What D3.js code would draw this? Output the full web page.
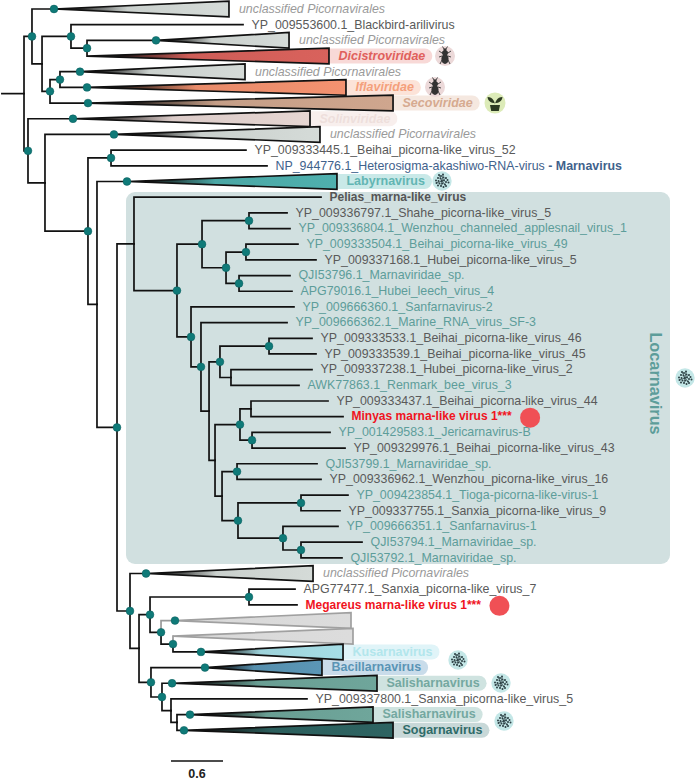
<!DOCTYPE html>
<html><head><meta charset="utf-8">
<script src="https://cdn.jsdelivr.net/npm/d3@7"></script>
<style>
html,body{margin:0;padding:0;background:#fff}
svg{display:block}
text{font-family:"Liberation Sans",Arial,sans-serif}
</style></head><body>
<svg id="chart" width="696" height="780"></svg>
<script>
// Internal nodes: id, parent, depth (substitutions/site from the left edge), has support dot
const rootStemDepth = 0.012;
const internalNodes = [
["n0","",0.277,0],["a","n0",0.369,1],["b","a",0.485,0],["c","b",0.819,1],["d","c",1.004,1],
["e","b",0.577,1],["f","e",0.692,1],["g","n0",0.323,1],["h","g",0.519,0],["i","h",1.015,1],
["j","i",1.281,1],["k","i",1.119,0],["l","k",1.35,1],["m","l",1.546,0],["n","m",2.042,1],
["o","n",2.331,1],["p","o",2.873,1],["q","o",2.608,1],["r","q",2.838,1],["s","q",2.758,1],
["t","n",2.204,1],["u","t",2.319,1],["v","u",2.412,0],["w","v",2.538,1],["x","w",3.104,1],
["y","w",2.665,0],["z","v",2.481,0],["aa","z",2.769,1],["ab","aa",2.896,0],["ac","aa",2.908,1],
["ad","z",2.562,0],["ae","ad",2.735,1],["af","ad",2.746,1],["ag","af",3.473,1],["ah","af",3.265,1],
["ai","ah",3.473,1],["aj","l",1.5,1],["ak","aj",1.604,0],["al","ak",1.731,1],["am","al",2.873,1],
["an","al",1.858,1],["ao","an",1.996,1],["ap","ak",1.742,1],["aq","ap",1.869,1],["ar","aq",1.973,0],
["as","ar",2.042,0]
];
// Sequence tips: row, parent, depth, label, style
const sequenceTips = [
[1,"c",2.804,"YP_009553600.1_Blackbird-arilivirus","gray"],
[9,"j",2.838,"YP_009333445.1_Beihai_picorna-like_virus_52","gray"],
[10,"j",3.081,"NP_944776.1_Heterosigma-akashiwo-RNA-virus","navy"],
[12,"m",3.704,"Pelias_marna-like_virus","boldgray"],
[13,"p",3.312,"YP_009336797.1_Shahe_picorna-like_virus_5","gray"],
[14,"p",3.346,"YP_009336804.1_Wenzhou_channeled_applesnail_virus_1","teal"],
[15,"r",3.438,"YP_009333504.1_Beihai_picorna-like_virus_49","teal"],
[16,"r",3.646,"YP_009337168.1_Hubei_picorna-like_virus_5","gray"],
[17,"s",3.346,"QJI53796.1_Marnaviridae_sp.","teal"],
[18,"s",3.369,"APG79016.1_Hubei_leech_virus_4","teal"],
[19,"t",3.392,"YP_009666360.1_Sanfarnavirus-2","teal"],
[20,"u",3.312,"YP_009666362.1_Marine_RNA_virus_SF-3","teal"],
[21,"x",3.6,"YP_009333533.1_Beihai_picorna-like_virus_46","gray"],
[22,"x",3.646,"YP_009333539.1_Beihai_picorna-like_virus_45","gray"],
[23,"y",3.6,"YP_009337238.1_Hubei_picorna-like_virus_2","gray"],
[24,"y",3.45,"AWK77863.1_Renmark_bee_virus_3","teal"],
[25,"ab",3.785,"YP_009333437.1_Beihai_picorna-like_virus_44","gray"],
[26,"ab",3.958,"Minyas marna-like virus 1***","red"],
[27,"ac",3.808,"YP_001429583.1_Jericarnavirus-B","teal"],
[28,"ac",3.981,"YP_009329976.1_Beihai_picorna-like_virus_43","gray"],
[29,"ae",3.658,"QJI53799.1_Marnaviridae_sp.","teal"],
[30,"ae",3.704,"YP_009336962.1_Wenzhou_picorna-like_virus_16","gray"],
[31,"ag",4.015,"YP_009423854.1_Tioga-picorna-like-virus-1","teal"],
[32,"ag",3.923,"YP_009337755.1_Sanxia_picorna-like_virus_9","gray"],
[33,"ah",3.9,"YP_009666351.1_Sanfarnavirus-1","teal"],
[34,"ai",4.177,"QJI53794.1_Marnaviridae_sp.","teal"],
[35,"ai",3.946,"QJI53792.1_Marnaviridae_sp.","teal"],
[37,"am",3.404,"APG77477.1_Sanxia_picorna-like_virus_7","gray"],
[38,"am",3.427,"Megareus marna-like virus 1***","red"],
[44,"ar",3.542,"YP_009337800.1_Sanxia_picorna-like_virus_5","gray"]
];
// Collapsed clades: row, parent, apex depth, far-edge depth, clade key, dot at apex
const collapsedClades = [
[0,"a",0.623,2.642,"unc",1],[2,"d",1.8,3.335,"unc",1],[3,"d",1.004,3.796,"Dicistroviridae",0],
[4,"f",0.923,2.827,"unc",1],[5,"f",1.004,3.992,"Iflaviridae",1],[6,"e",1.015,4.535,"Secoviridae",1],
[7,"g",0.842,3.577,"Solinviridae",1],[8,"h",1.315,3.692,"unc",1],[11,"k",1.465,3.888,"Labyrnavirus",1],
[36,"aj",1.685,3.612,"unc",1],[39,"an",2.019,4.05,"blank",1],[40,"ao",1.996,4.073,"blank",0],
[41,"ao",2.319,3.958,"Kusarnavirus",1],[42,"ap",2.365,3.715,"Bacillarnavirus",1],
[43,"aq",1.985,4.35,"Salisharnavirus",1],[45,"as",2.192,4.304,"Salisharnavirus",1],
[46,"as",2.123,4.535,"Sogarnavirus",1]
];
const cladeFill = {unc:"#d5dbd8",blank:"#dcdcdc",Dicistroviridae:"#d9625c",Iflaviridae:"#f49270",Secoviridae:"#cfa68e",
 Solinviridae:"#e6d6d2",Labyrnavirus:"#4fb0ae",Kusarnavirus:"#a6dee6",Bacillarnavirus:"#5b96b6",Salisharnavirus:"#6fa69b",Sogarnavirus:"#2e6462"};
const cladeText = {Dicistroviridae:"#e0605c",Iflaviridae:"#f4a07c",Secoviridae:"#d6aa90",Solinviridae:"#eedfdc",Labyrnavirus:"#62b5b3",
 Kusarnavirus:"#b2e6ec",Bacillarnavirus:"#5a94b5",Salisharnavirus:"#74a8a0",Sogarnavirus:"#2f6b68"};
const cladePill = {Dicistroviridae:"#f8d9d7",Iflaviridae:"#fce3d8",Secoviridae:"#f5e8e0",Solinviridae:"#f8efed",Labyrnavirus:"#c9e9e8",
 Kusarnavirus:"#e0f4f8",Bacillarnavirus:"#c9dcea",Salisharnavirus:"#cfe3e0",Sogarnavirus:"#c8d8d8"};
const italicClades = ["Dicistroviridae","Iflaviridae","Secoviridae","Solinviridae"];
const tipColor = {gray:"#5a5a5a",teal:"#5d9d9a",navy:"#3f628c",boldgray:"#555",red:"#f0141e"};
const uncLabel = "unclassified Picornavirales";
const scaleBar = {value:0.6, label:"0.6"};
const bgLabel = "Locarnavirus";

const W=696,H=780;
const x = d3.scaleLinear().domain([0,0.6]).range([0,52]);
const y = d3.scaleLinear().domain([0,46]).range([9,730.3]);
const halfRow = 0.5;

const table = [
  ...internalNodes.map(d=>({id:d[0],parent:d[1]||null,depth:d[2],dot:d[3],type:"node"})),
  ...sequenceTips.map(d=>({id:"t"+d[0],parent:d[1],depth:d[2],row:d[0],label:d[3],style:d[4],dot:0,type:"tip"})),
  ...collapsedClades.map(d=>({id:"t"+d[0],parent:d[1],depth:d[2],far:d[3],row:d[0],key:d[4],dot:d[5],type:"clade"}))
];
const root = d3.stratify().id(d=>d.id).parentId(d=>d.parent)(table);
root.eachAfter(n=>{
  if(n.children){
    n.children.sort((a,b)=>a.data._r-b.data._r);
    n.data._r=d3.min(n.children,c=>c.data._r);
    n.data._y=(n.children[0].data._y+n.children[n.children.length-1].data._y)/2;
  } else { n.data._r=n.data.row; n.data._y=y(n.data.row); }
});
const svg=d3.select("#chart");
const defs=svg.append("defs");
Object.entries(cladeFill).forEach(([k,c])=>{
  const g=defs.append("linearGradient").attr("id","g"+k).attr("x1",0).attr("x2",1).attr("y1",0).attr("y2",0);
  const stops = k==="blank" ? [[0,"#d8d8d8"],[1,c]] : [[0,"#000"],[0.1,"#111"],[0.42,d3.interpolateRgb("#000",c)(0.95)],[1,c]];
  stops.forEach(s=>g.append("stop").attr("offset",s[0]).attr("stop-color",s[1]));
});
// Background for Locarnavirus
svg.append("rect").attr("x",126).attr("y",192).attr("width",544).attr("height",372).attr("rx",9).attr("fill","#d1e0e0");

const gPill=svg.append("g"),gBranch=svg.append("g"),gTri=svg.append("g"),gDot=svg.append("g"),gText=svg.append("g"),gIcon=svg.append("g");
// stem
gBranch.append("path").attr("d",d3.line()([[x(rootStemDepth),root.data._y],[x(root.data.depth),root.data._y]]))
  .attr("stroke","#111").attr("stroke-width",1.7).attr("fill","none");
// elbows
root.descendants().filter(n=>n.parent).sort((a,b)=>(a.data.key==="blank")-(b.data.key==="blank")).forEach(n=>{
  const gray=n.data.key==="blank";
  gBranch.append("path")
   .attr("d",d3.line()([[x(n.parent.data.depth),n.parent.data._y],[x(n.parent.data.depth),n.data._y],[x(n.data.depth),n.data._y]]))
   .attr("fill","none").attr("stroke",gray?"#9a9a9a":"#111").attr("stroke-width",1.7).attr("stroke-linecap","square");
});
// triangles
const cladeNodes=root.leaves().filter(n=>n.data.type==="clade");
cladeNodes.forEach(n=>{
  const d=n.data,yy=d._y,h=y(d.row+halfRow)-y(d.row);
  gTri.append("path").attr("d",d3.line()([[x(d.depth),yy],[x(d.far),yy-h],[x(d.far),yy+h]])+"Z")
   .attr("fill","url(#g"+d.key+")").attr("stroke",d.key==="blank"?"#a0a0a0":"#111").attr("stroke-width",1.7).attr("stroke-linejoin","miter");
  if(d.key==="unc"){
    gText.append("text").attr("x",x(d.far)+10).attr("y",yy-0.5).attr("dy","0.35em").attr("font-size",12.4).attr("font-style","italic").attr("fill","#9a9a9a").text(uncLabel);
  } else if(d.key!=="blank"){
    const t=gText.append("text").attr("x",x(d.far)+9.5).attr("y",yy-0.5).attr("dy","0.35em").attr("font-size",12.5).attr("font-weight","bold")
      .attr("font-style",italicClades.includes(d.key)?"italic":"normal").attr("fill",cladeText[d.key]).text(d.key);
    const len=t.node().getComputedTextLength();
    gPill.append("rect").attr("x",x(d.far)-8).attr("y",yy-7.5).attr("width",len+8+9.5+7).attr("height",15).attr("rx",7.5).attr("fill",cladePill[d.key]);
  }
});
// dots
root.descendants().filter(n=>n.data.dot).forEach(n=>{
  gDot.append("circle").attr("cx",x(n.data.depth)).attr("cy",n.data._y).attr("r",3.9).attr("fill","#0f7a78").attr("stroke","#0b5c5c").attr("stroke-width",0.5);
});
// tip labels
root.leaves().filter(n=>n.data.type==="tip").forEach(n=>{
  const d=n.data,bold=d.style==="boldgray"||d.style==="red";
  const t=gText.append("text").attr("x",x(d.depth)+8.5).attr("y",d._y-0.5).attr("dy","0.35em")
   .attr("font-size",bold?12:12.4).attr("fill",tipColor[d.style]).attr("font-weight",bold?"bold":"normal").text(d.label);
  if(d.style==="navy") t.append("tspan").attr("font-weight","bold").text(" - Marnavirus");
  if(d.style==="red"){
    const end=x(d.depth)+8.5+t.node().getComputedTextLength();
    gIcon.append("circle").attr("cx",end+18.5).attr("cy",d._y+1).attr("r",10).attr("fill","#f05055");
  }
});
// Locarnavirus rotated label
gText.append("text").attr("transform","translate(650,383.5) rotate(90)").attr("text-anchor","middle")
  .attr("font-size",16.3).attr("font-weight","bold").attr("fill","#5d9d9a").text(bgLabel);
// scale bar
const barY=761,barX=171;
gBranch.append("path").attr("d",d3.line()([[barX,barY],[barX+x(scaleBar.value),barY]])).attr("stroke","#111").attr("stroke-width",1.7);
gText.append("text").attr("x",barX+x(scaleBar.value)/2).attr("y",778).attr("text-anchor","middle").attr("font-size",12.5).attr("font-weight","bold").attr("fill","#222").text(scaleBar.label);

// Icons
function diatom(cx,cy){
  const g=gIcon.append("g").attr("transform",`translate(${cx},${cy})`);
  g.append("circle").attr("r",9.7).attr("fill","#c4e7e7");
  const blobs=[[-3,-6],[-1,-5],[1,-6.5],[-4,-3],[-1.5,-2.5],[1.5,-3.5],[4,-3],[5.5,-1],[-6,-0.5],[-3.5,0],[-0.5,0],[2,-0.5],[4,1],[6.5,1.5],[-5.5,2],[-2.5,2.5],[0.5,2.5],[3,3.5],[-4,4.5],[-1,5],[1.5,6],[4,5]];
  g.selectAll("circle.b").data(blobs).join("circle").attr("class","b").attr("cx",d=>d[0]).attr("cy",d=>d[1]).attr("r",1).attr("fill","#2d4045");
  g.append("path").attr("d","M-3,-6L0,0L3,3.5M1,-6L0,0M-5.5,2L0,0L4,-3M0,0L-1,5").attr("stroke","#2d4045").attr("stroke-width",0.7).attr("fill","none");
}
function bug(cx,cy){
  const g=gIcon.append("g").attr("transform",`translate(${cx},${cy})`);
  g.append("circle").attr("r",10).attr("fill","#ecd9d9");
  g.append("ellipse").attr("cy",3).attr("rx",3.6).attr("ry",5).attr("fill","#333");
  g.append("ellipse").attr("cy",-3).attr("rx",3).attr("ry",2.4).attr("fill","#333");
  g.append("circle").attr("cy",-6).attr("r",1.7).attr("fill","#333");
  g.append("path").attr("d","M-3,-3L-6,-5M3,-3L6,-5M-3,0L-6,1M3,0L6,1M-3,4L-5,8M3,4L5,8M-1,-7L-2.5,-9.5M1,-7L2.5,-9.5").attr("stroke","#333").attr("stroke-width",0.9).attr("fill","none");
}
function plant(cx,cy){
  const g=gIcon.append("g").attr("transform",`translate(${cx},${cy})`);
  g.append("circle").attr("r",10.5).attr("fill","#dcebb8");
  g.append("path").attr("d","M-5,2H5L3.8,8H-3.8Z").attr("fill","#2c3a22");
  g.append("path").attr("d","M0,2C0,-1 -2,-6 -7.5,-6C-7,-2 -4,0 0,0C4,0 7,-2 7.5,-6C2,-6 0,-1 0,2Z").attr("fill","#2c3a22");
}
[[442,181],[685,378],[458,660],[501,683],[504,721]].forEach(p=>diatom(p[0],p[1]));
[[445,56],[435,87]].forEach(p=>bug(p[0],p[1]));
plant(495,103);
</script>
</body></html>
